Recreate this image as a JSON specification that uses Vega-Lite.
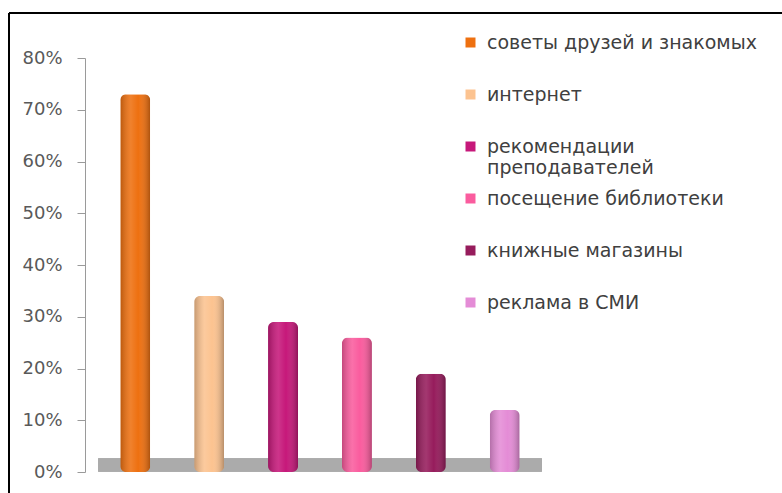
{
  "$schema": "https://vega.github.io/schema/vega-lite/v6.json",
  "width": 773,
  "height": 480,
  "autosize": "none",
  "padding": {"left": 9, "top": 13, "right": 0, "bottom": 0},
  "background": "white",
  "config": {
    "view": {"stroke": "#000000", "strokeWidth": 2, "strokeDash": [773, 1253, 480, 0]},
    "font": "DejaVu Sans"
  },
  "data": {
    "values": [
      {"source": "советы друзей и знакомых", "share": 0.73},
      {"source": "интернет", "share": 0.34},
      {"source": "рекомендации преподавателей", "share": 0.29},
      {"source": "посещение библиотеки", "share": 0.26},
      {"source": "книжные магазины", "share": 0.19},
      {"source": "реклама в СМИ", "share": 0.12}
    ]
  },
  "encoding": {
    "x": {
      "field": "source",
      "type": "nominal",
      "sort": null,
      "axis": null,
      "scale": {
        "domain": ["советы друзей и знакомых", "интернет", "рекомендации преподавателей", "посещение библиотеки", "книжные магазины", "реклама в СМИ"],
        "range": [76, 546], "paddingInner": 0, "paddingOuter": 0.18
      }
    }
  },
  "layer": [
    {
      "mark": {"type": "rule", "color": "#ababab", "strokeWidth": 13, "strokeCap": "butt", "yOffset": -7},
      "encoding": {
        "x": {"datum": "советы друзей и знакомых", "bandPosition": 0},
        "x2": {"datum": "реклама в СМИ", "bandPosition": 1},
        "y": {"datum": 0, "type": "quantitative", "scale": {"domain": [0, 0.8], "range": [459, 45]}}
      }
    },
    {
      "mark": {"type": "bar", "width": 30, "cornerRadiusTopLeft": 6, "cornerRadiusTopRight": 6, "cornerRadiusBottomLeft": 6, "cornerRadiusBottomRight": 6},
      "encoding": {
        "y": {
          "field": "share",
          "type": "quantitative",
          "scale": {"domain": [0, 0.8], "range": [459, 45]},
          "axis": {
            "offset": -76,
            "values": [0, 0.1, 0.2, 0.3, 0.4, 0.5, 0.6, 0.7, 0.8],
            "format": ".0%",
            "title": null,
            "grid": false,
            "domainColor": "#9a9a9a",
            "tickColor": "#9a9a9a",
            "tickSize": 8,
            "labelPadding": 15,
            "labelFont": "DejaVu Sans",
            "labelFontSize": 18,
            "labelColor": "#595959"
          }
        },
        "color": {
          "field": "source",
          "type": "nominal",
          "sort": null,
          "scale": {
            "domain": ["советы друзей и знакомых", "интернет", "рекомендации преподавателей", "посещение библиотеки", "книжные магазины", "реклама в СМИ"],
            "range": ["#EE7010", "#FCC390", "#C6187A", "#FA5C9E", "#961C5C", "#E48CD6"]
          },
          "legend": {
            "orient": "none",
            "legendX": 452,
            "legendY": 20,
            "title": null,
            "symbolType": "square",
            "symbolSize": 100,
            "symbolStrokeWidth": 0,
            "labelFont": "DejaVu Sans",
            "labelFontSize": 19,
            "labelColor": "#404040",
            "labelOffset": 7,
            "labelLimit": 400,
            "rowPadding": 11,
            "labelExpr": "datum.label == 'рекомендации преподавателей' ? ['рекомендации', 'преподавателей'] : [datum.label, ' ']"
          }
        }
      }
    },
    {
      "mark": {
        "type": "bar",
        "width": 30,
        "cornerRadiusTopLeft": 6,
        "cornerRadiusTopRight": 6,
        "cornerRadiusBottomLeft": 6,
        "cornerRadiusBottomRight": 6,
        "fill": {
          "gradient": "linear",
          "x1": 0, "x2": 1, "y1": 0, "y2": 0,
          "stops": [
            {"offset": 0, "color": "rgba(0,0,0,0.22)"},
            {"offset": 0.35, "color": "rgba(255,255,255,0.12)"},
            {"offset": 0.6, "color": "rgba(255,255,255,0.0)"},
            {"offset": 1, "color": "rgba(0,0,0,0.28)"}
          ]
        }
      },
      "encoding": {
        "y": {"field": "share", "type": "quantitative"}
      }
    }
  ]
}
